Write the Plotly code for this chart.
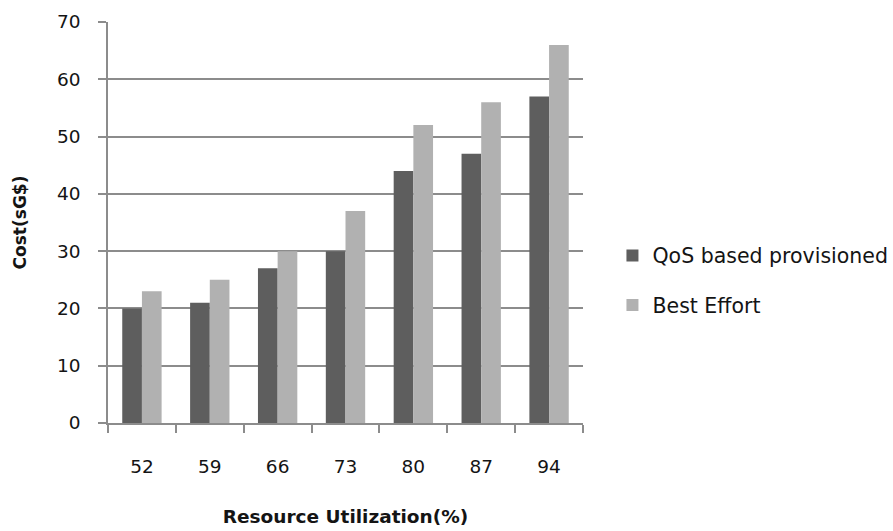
import plotly.graph_objects as go

utilization = ["52", "59", "66", "73", "80", "87", "94"]
qos_cost = [20, 21, 27, 30, 44, 47, 57]
best_effort_cost = [23, 25, 30, 37, 52, 56, 66]

FONT = "DejaVu Sans"
AXIS_GRAY = "#8c8c8c"
TEXT = "#141414"

fig = go.Figure()
fig.add_trace(go.Bar(
    x=utilization, y=qos_cost, name="QoS based provisioned",
    marker=dict(color="#5e5e5e", line=dict(width=0)),
    legendgroup="a",
))
fig.add_trace(go.Bar(
    x=utilization, y=best_effort_cost, name="Best Effort",
    marker=dict(color="#b1b1b1", line=dict(width=0)),
    legendgroup="b",
))

fig.update_layout(
    width=893, height=531,
    margin=dict(l=108, r=310, t=22, b=108, autoexpand=False),
    paper_bgcolor="white", plot_bgcolor="white",
    barmode="group", bargap=0.42, bargroupgap=0,
    font=dict(family=FONT, size=18, color=TEXT),
    legend=dict(
        x=1.062, y=0.355, xanchor="left", yanchor="middle",
        font=dict(family=FONT, size=20.5, color=TEXT),
        tracegroupgap=20, itemwidth=30,
    ),
    xaxis=dict(
        type="category", tickson="boundaries", automargin=False,
        ticks="outside", ticklen=8, tickcolor=AXIS_GRAY, tickwidth=1.5,
        showline=True, linecolor=AXIS_GRAY, linewidth=1.5,
        showgrid=False,
        tickfont=dict(family=FONT, size=18.5, color=TEXT),
        ticklabelstandoff=26,
        title=dict(text="<b>Resource Utilization(%)</b>",
                   font=dict(family=FONT, size=18.5, color=TEXT), standoff=34),
    ),
    yaxis=dict(
        range=[0, 70], dtick=10, automargin=False,
        ticks="outside", ticklen=8, tickcolor=AXIS_GRAY, tickwidth=1.5,
        showline=True, linecolor=AXIS_GRAY, linewidth=1.5,
        showgrid=True, gridcolor=AXIS_GRAY, gridwidth=1.5,
        zeroline=False,
        tickfont=dict(family=FONT, size=18.5, color=TEXT),
        ticklabelstandoff=14,
        title=dict(text="<b>Cost(sG$)</b>",
                   font=dict(family=FONT, size=17, color=TEXT), standoff=26),
    ),
)

fig.write_html("out.html")
